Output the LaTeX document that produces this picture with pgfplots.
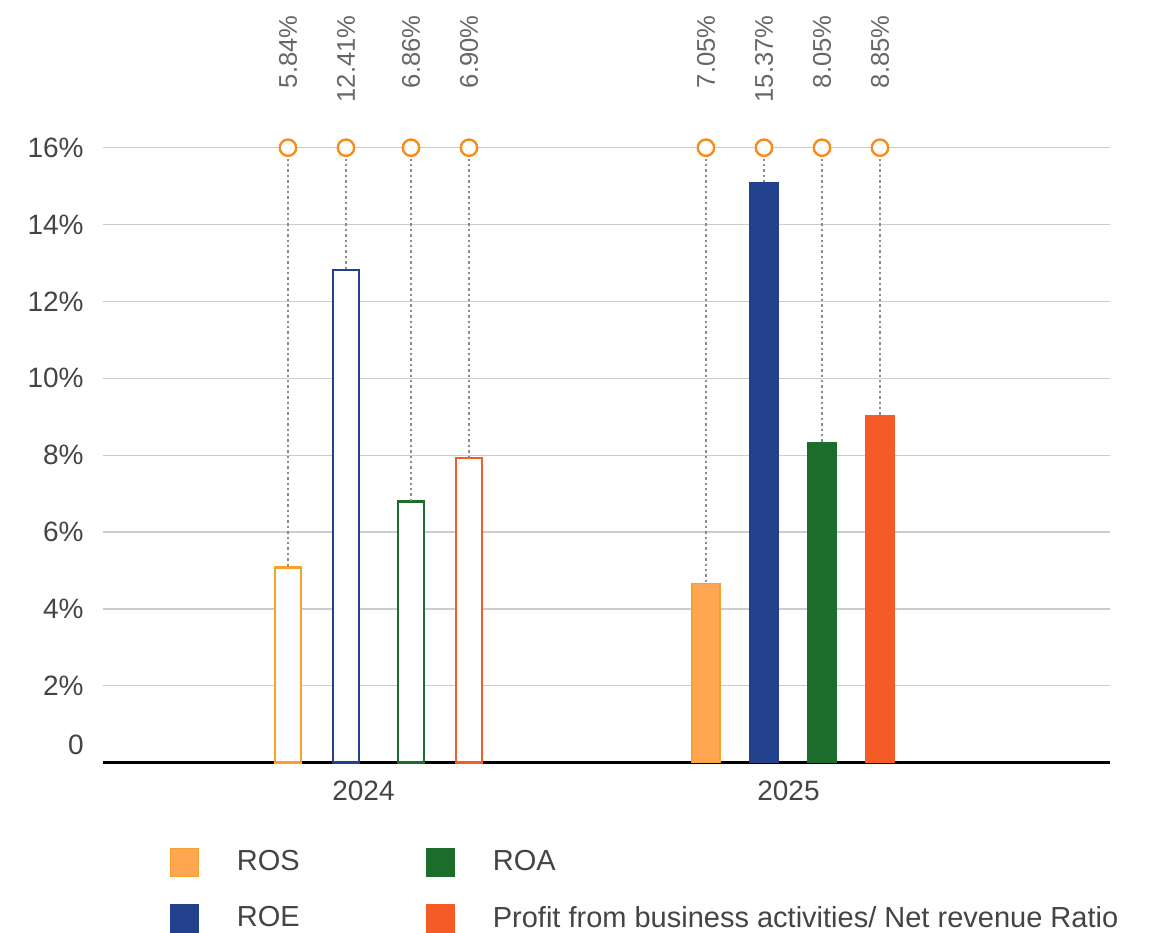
\documentclass[border=0pt]{standalone}
\usepackage{fontspec}
\setmainfont{Liberation Sans}
\usepackage{pgfplots}
\pgfplotsset{compat=1.18}
\definecolor{rosc}{HTML}{F7A02E}
\definecolor{rosf}{HTML}{FFA653}
\definecolor{roec}{HTML}{22408C}
\definecolor{roac}{HTML}{1C6D2C}
\definecolor{pbac}{HTML}{F45B26}
\definecolor{mk}{HTML}{F98B1B}
\definecolor{gridc}{HTML}{CCCCCC}
\definecolor{tickc}{HTML}{444444}
\definecolor{labc}{HTML}{666666}
\definecolor{dotc}{HTML}{8C8C8C}
\pgfplotsset{sqleg/.style={legend image code/.code={\draw[##1,line width=0.5pt] (0pt,-7pt) rectangle (14pt,7pt);}}}
\begin{document}
\begin{tikzpicture}
\path[use as bounding box] (-51.5pt,-85.15pt) rectangle (525pt,381.35pt);
\begin{axis}[
  at={(0,0)}, anchor=south west,
  scale only axis, width=503.5pt, height=307.5pt,
  xmin=103, xmax=1110, ymin=0, ymax=16,
  clip=false,
  axis x line*=bottom,
  axis y line*=left,
  x axis line style={black, line width=1.4pt},
  y axis line style={draw=none},
  major tick length=0pt,
  ytick={2,4,...,16},
  yticklabels={2\%,4\%,6\%,8\%,10\%,12\%,14\%,16\%},
  extra y ticks={0},
  extra y tick labels={0},
  extra y tick style={ymajorgrids=false, yticklabel style={yshift=9pt}},
  ymajorgrids,
  grid style={gridc, line width=0.65pt},
  yticklabel style={anchor=east, inner sep=0pt, xshift=-9.5pt, text=tickc, font=\fontsize{14}{16}\selectfont},
  xtick={363.5,788.5},
  xticklabels={2024,2025},
  xticklabel style={anchor=north, inner sep=0pt, yshift=-9pt, text=tickc, font=\fontsize{14}{16}\selectfont},
  legend columns=2,
  transpose legend,
  legend cell align=left,
  legend style={at={(axis description cs:0,0)}, anchor=north west, xshift=33.5pt, yshift=-42.5pt,
    draw=none, fill=none, inner sep=0pt, outer sep=0pt,
    font=\fontsize{14.5}{17}\selectfont, text=tickc,
    nodes={inner sep=0pt},
    /tikz/row sep=13.5pt,
    /tikz/every odd column/.style={column sep=19pt},
    /tikz/every even column/.style={column sep=63pt}},
]
% 2024 outlined bars
\addplot[ybar, bar shift=0pt, bar width=26, draw=rosc, fill=white, line width=1.35pt, forget plot] coordinates {(288,5.07)};
\addplot[ybar, bar shift=0pt, bar width=26, draw=roec, fill=white, line width=1.35pt, forget plot] coordinates {(346,12.82)};
\addplot[ybar, bar shift=0pt, bar width=26, draw=roac, fill=white, line width=1.35pt, forget plot] coordinates {(411,6.79)};
\addplot[ybar, bar shift=0pt, bar width=26, draw=pbac, fill=white, line width=1.35pt, forget plot] coordinates {(469,7.93)};
% 2025 filled bars
\addplot[ybar, bar shift=0pt, bar width=28, draw=rosc, fill=rosf, line width=0.6pt, sqleg] coordinates {(706,4.66)};
\addlegendentry{ROS}
\addplot[ybar, bar shift=0pt, bar width=28, draw=roec, fill=roec, line width=0.6pt, sqleg] coordinates {(764,15.10)};
\addlegendentry{ROE}
\addplot[ybar, bar shift=0pt, bar width=28, draw=roac, fill=roac, line width=0.6pt, sqleg] coordinates {(822,8.32)};
\addlegendentry{ROA}
\addplot[ybar, bar shift=0pt, bar width=28, draw=pbac, fill=pbac, line width=0.6pt, sqleg] coordinates {(880,9.04)};
\addlegendentry{Profit from business activities/ Net revenue Ratio}
% dotted leaders and markers at 16%
\addplot[forget plot, only marks, mark=*, mark size=4.1pt, mark options={draw=mk, fill=white, line width=1.2pt},
  error bars/.cd, y dir=minus, y explicit, error mark=none,
  error bar style={dotc, line width=0.55pt, dash pattern=on 1.2pt off 1.5pt}]
  coordinates {
  (288,16) +- (0,10.93)
  (346,16) +- (0,3.18)
  (411,16) +- (0,9.21)
  (469,16) +- (0,8.07)
  (706,16) +- (0,11.34)
  (764,16) +- (0,0.90)
  (822,16) +- (0,7.68)
  (880,16) +- (0,6.96)
  };
% value labels
\addplot[draw=none, mark=none, forget plot, nodes near coords, point meta=explicit symbolic,
  nodes near coords style={rotate=90, anchor=east, inner sep=0pt, text=labc, font=\fontsize{12.8}{15}\selectfont}]
  coordinates {
  (288,19.45) [5.84\%]
  (346,19.45) [12.41\%]
  (411,19.45) [6.86\%]
  (469,19.45) [6.90\%]
  (706,19.45) [7.05\%]
  (764,19.45) [15.37\%]
  (822,19.45) [8.05\%]
  (880,19.45) [8.85\%]
  };
\end{axis}
\end{tikzpicture}
\end{document}
